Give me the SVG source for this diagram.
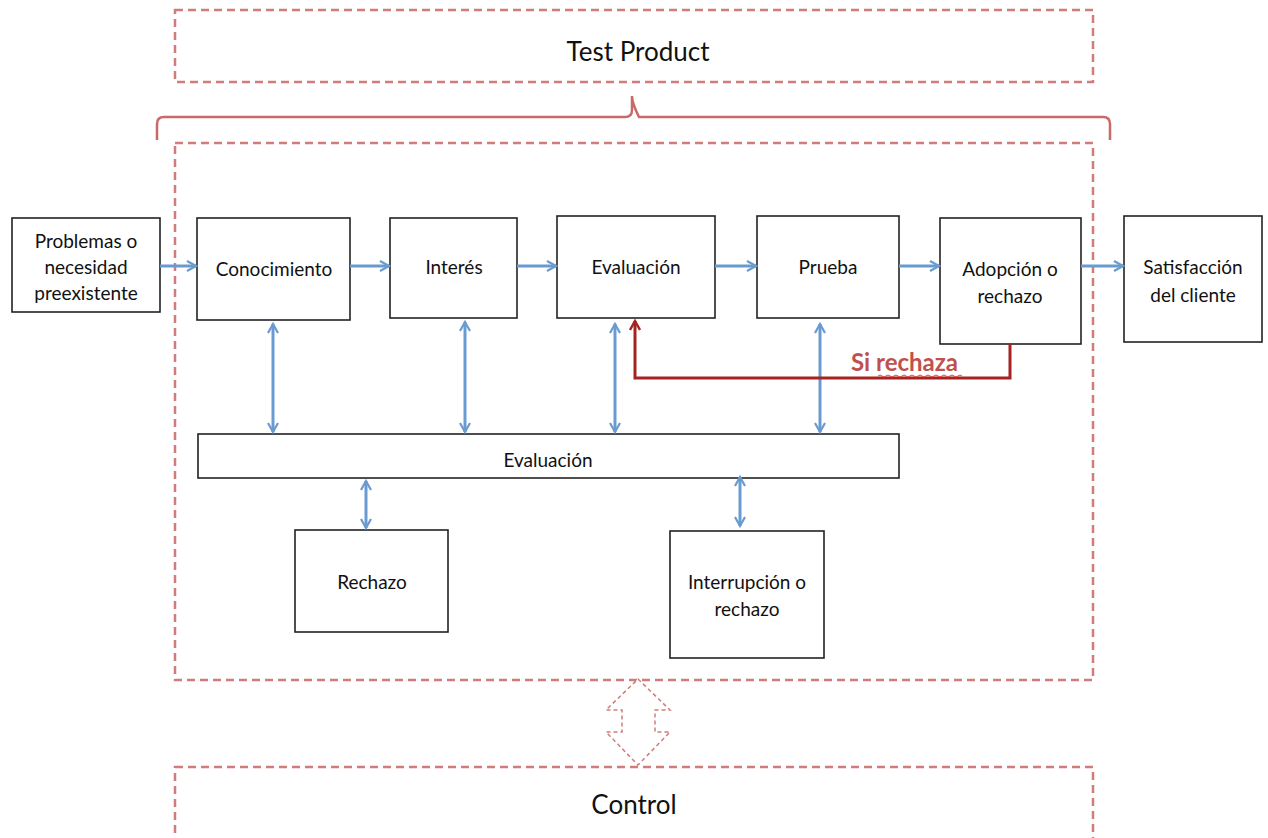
<svg xmlns="http://www.w3.org/2000/svg" width="1268" height="838" viewBox="0 0 1268 838">
<defs>
<marker id="ab" viewBox="0 0 12 12" refX="10" refY="6" markerWidth="12" markerHeight="12" markerUnits="userSpaceOnUse" orient="auto-start-reverse">
<path d="M1,1 L10,6 L1,11" fill="none" stroke="#6a9bd0" stroke-width="2.2"/>
</marker>
<marker id="ar" viewBox="0 0 12 12" refX="10" refY="6" markerWidth="12" markerHeight="12" markerUnits="userSpaceOnUse" orient="auto">
<path d="M1,1 L10,6 L1,11" fill="none" stroke="#a52320" stroke-width="2.4"/>
</marker>
</defs>
<style>
.dash{fill:none;stroke:#c0504d;stroke-opacity:0.75;stroke-width:2.5;stroke-dasharray:8,5}
.box{fill:#fff;stroke:#222;stroke-width:1.6}
.t{font-family:Lato,"Liberation Sans",sans-serif;font-size:19px;fill:#111;text-anchor:middle}
.big{font-family:Lato,"Liberation Sans",sans-serif;font-size:26px;fill:#111;text-anchor:middle}
.ba{fill:none;stroke:#6a9bd0;stroke-width:3}
</style>
<rect width="1268" height="838" fill="#fff"/>
<g id="test-product">
<rect class="dash" x="175" y="10" width="918" height="72"/>
<text class="big" x="638" y="61">Test Product</text>
</g>
<path id="brace" d="M157,140 V124 Q157,117 164,117 H625 Q632,117 632,110 V96 Q632,103 639,117 H1103 Q1110,117 1110,124 V140" fill="none" stroke="#c0504d" stroke-opacity="0.85" stroke-width="2.5"/>
<g id="main-frame">
<rect class="dash" x="175" y="143" width="918" height="537"/>
</g>
<g id="control">
<rect class="dash" x="175" y="767" width="918" height="90"/>
<text class="big" x="634" y="814">Control</text>
</g>
<g id="n-problemas"><rect class="box" x="12" y="218" width="148" height="94"/>
<text class="t" x="86" y="248">Problemas o</text><text class="t" x="86" y="274">necesidad</text><text class="t" x="86" y="300">preexistente</text></g>
<g id="n-conocimiento"><rect class="box" x="197" y="218" width="153" height="102"/><text class="t" x="274" y="276">Conocimiento</text></g>
<g id="n-interes"><rect class="box" x="390" y="218" width="127" height="100"/><text class="t" x="454" y="274">Interés</text></g>
<g id="n-evaluacion1"><rect class="box" x="557" y="216" width="158" height="102"/><text class="t" x="636" y="274">Evaluación</text></g>
<g id="n-prueba"><rect class="box" x="757" y="216" width="142" height="102"/><text class="t" x="828" y="274">Prueba</text></g>
<g id="n-adopcion"><rect class="box" x="940" y="218" width="141" height="126"/><text class="t" x="1010" y="276">Adopción o</text><text class="t" x="1010" y="303">rechazo</text></g>
<g id="n-satisfaccion"><rect class="box" x="1124" y="216" width="138" height="126"/><text class="t" x="1193" y="274">Satisfacción</text><text class="t" x="1193" y="302">del cliente</text></g>
<g id="n-evaluacion2"><rect class="box" x="198" y="434" width="701" height="44"/><text class="t" x="548" y="467">Evaluación</text></g>
<g id="n-rechazo"><rect class="box" x="295" y="530" width="153" height="102"/><text class="t" x="372" y="589">Rechazo</text></g>
<g id="n-interrupcion"><rect class="box" x="670" y="531" width="154" height="127"/><text class="t" x="747" y="589">Interrupción o</text><text class="t" x="747" y="616">rechazo</text></g>
<g id="connectors">
<line class="ba" x1="160" y1="266" x2="196" y2="266" marker-end="url(#ab)"/>
<line class="ba" x1="350" y1="266" x2="389" y2="266" marker-end="url(#ab)"/>
<line class="ba" x1="517" y1="266" x2="556" y2="266" marker-end="url(#ab)"/>
<line class="ba" x1="715" y1="266" x2="756" y2="266" marker-end="url(#ab)"/>
<line class="ba" x1="899" y1="266" x2="939" y2="266" marker-end="url(#ab)"/>
<line class="ba" x1="1081" y1="266" x2="1123" y2="266" marker-end="url(#ab)"/>
<line class="ba" x1="273" y1="324" x2="273" y2="432" marker-start="url(#ab)" marker-end="url(#ab)"/>
<line class="ba" x1="465" y1="322" x2="465" y2="432" marker-start="url(#ab)" marker-end="url(#ab)"/>
<line class="ba" x1="615" y1="324" x2="615" y2="432" marker-start="url(#ab)" marker-end="url(#ab)"/>
<line class="ba" x1="820" y1="324" x2="820" y2="432" marker-start="url(#ab)" marker-end="url(#ab)"/>
<line class="ba" x1="366" y1="481" x2="366" y2="528" marker-start="url(#ab)" marker-end="url(#ab)"/>
<line class="ba" x1="740" y1="477" x2="740" y2="526" marker-start="url(#ab)" marker-end="url(#ab)"/>
<polyline points="1010,344 1010,378 635,378 635,321" fill="none" stroke="#a52320" stroke-width="3" marker-end="url(#ar)"/>
<text x="851" y="371" font-family="Lato,'Liberation Sans',sans-serif" font-size="24" font-weight="bold" fill="#c0504d">Si rechaza</text>
<path d="M878,376 q2,-2 4,0 t4,0 t4,0 t4,0 t4,0 t4,0 t4,0 t4,0 t4,0 t4,0 t4,0 t4,0 t4,0 t4,0 t4,0 t4,0 t4,0 t4,0 t4,0 t4,0 t4,0" fill="none" stroke="#e04040" stroke-width="1"/>
<path id="control-link" d="M638,679 L670,710 H655 V732 H670 L638,765 L606,732 H622 V710 H606 Z" fill="#fff" stroke="#c0504d" stroke-opacity="0.75" stroke-width="1.5" stroke-dasharray="4,3"/>
</g>
</svg>
